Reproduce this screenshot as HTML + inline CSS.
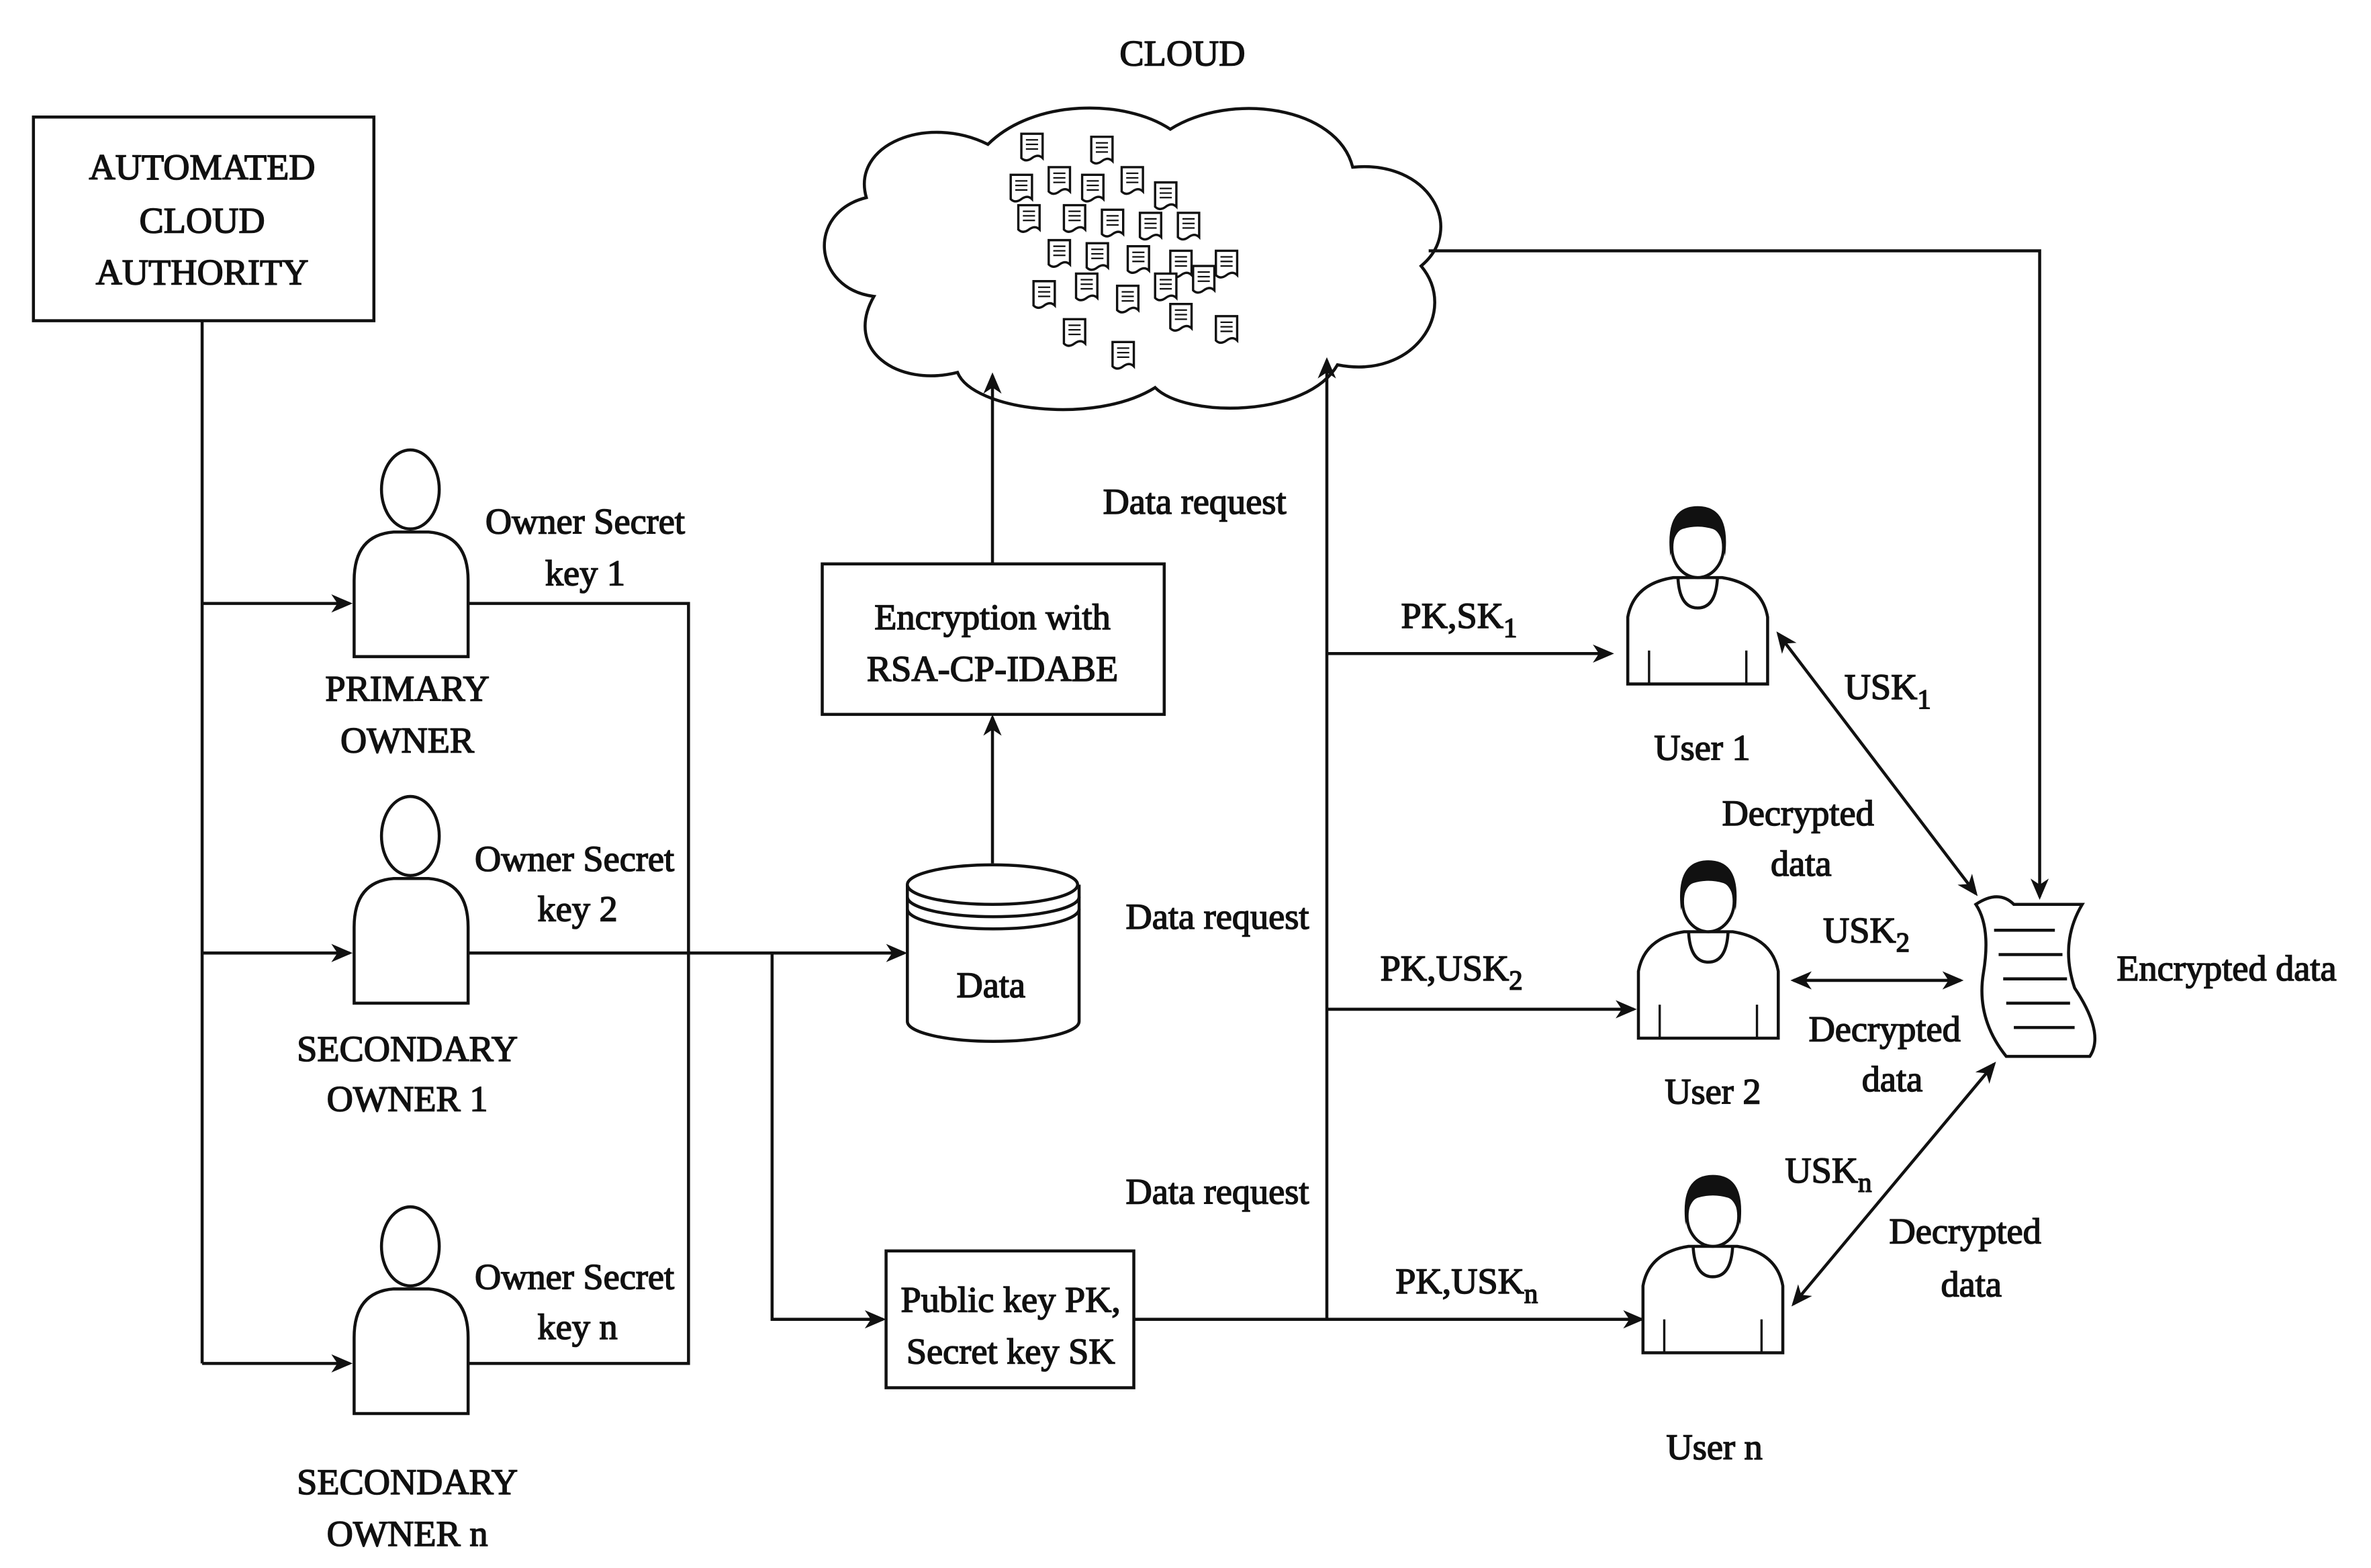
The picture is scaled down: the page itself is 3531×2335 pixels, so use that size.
<!DOCTYPE html>
<html><head><meta charset="utf-8"><style>
html,body{margin:0;padding:0;background:#fff;}
svg{display:block;}
text{font-family:"Liberation Serif",serif;font-size:24px;fill:#111;stroke:#111;stroke-width:0.7;text-anchor:middle;}
.l{stroke:#111;stroke-width:2;fill:none;}
</style></head><body>
<svg width="3531" height="2335" viewBox="0 0 1560 1031.6" preserveAspectRatio="none" xmlns="http://www.w3.org/2000/svg">
<defs>
<marker id="a" markerWidth="14" markerHeight="12" refX="12" refY="6" orient="auto" markerUnits="userSpaceOnUse"><path d="M0,0 L14,6 L0,12 L4,6 z" fill="#111"/></marker>
<marker id="s" markerWidth="14" markerHeight="12" refX="2" refY="6" orient="auto" markerUnits="userSpaceOnUse"><path d="M14,0 L0,6 L14,12 L10,6 z" fill="#111"/></marker>
<g id="doc"><path d="M0,0 h14 v16 q-3,-3 -7,0 q-4,3 -7,0 z" fill="#fff" stroke="#111" stroke-width="1.5"/><path d="M3,4h8M3,7h8M3,10h8" stroke="#111" stroke-width="1"/></g>
<g id="own" class="l"><path d="M0,84 V34 Q0,4 26,2 L49,2 Q75,4 75,34 V84 Z" fill="#fff"/><ellipse cx="37" cy="-26" rx="19" ry="26" fill="#fff"/></g>
<g id="usr"><path d="M0,72 V28 Q4,6 30,2 L62,2 Q88,6 92,28 V72 Z" fill="#fff" stroke="#111" stroke-width="2"/><path d="M33,2 Q34,22 46,22 Q58,22 59,2" fill="none" stroke="#111" stroke-width="2"/><path d="M14,50V72 M78,50V72" stroke="#111" stroke-width="1.5"/><ellipse cx="46" cy="-18" rx="17" ry="20" fill="#fff" stroke="#111" stroke-width="2"/><path d="M28,-12 Q24,-45 46,-45 Q68,-45 64,-12 Q62,-28 56,-30 Q46,-33 36,-30 Q30,-28 28,-12z" fill="#111"/></g>
</defs>
<rect width="1560" height="1031.6" fill="#fff"/>
<text x="778" y="43">CLOUD</text>
<path class="l" d="M575,195 C535,190 530,140 570,130 C560,95 610,75 650,95 C680,65 740,65 770,85 C810,60 880,70 890,110 C940,105 965,150 935,175 C960,205 930,250 880,240 C860,275 780,275 760,255 C720,280 640,270 630,245 C590,255 555,230 575,195 z"/>
<g>
<use href="#doc" x="672" y="88"/><use href="#doc" x="718" y="90"/><use href="#doc" x="665" y="115"/><use href="#doc" x="690" y="110"/><use href="#doc" x="712" y="115"/><use href="#doc" x="738" y="110"/><use href="#doc" x="760" y="120"/>
<use href="#doc" x="670" y="135"/><use href="#doc" x="700" y="135"/><use href="#doc" x="725" y="138"/><use href="#doc" x="750" y="140"/><use href="#doc" x="775" y="140"/>
<use href="#doc" x="690" y="158"/><use href="#doc" x="715" y="160"/><use href="#doc" x="742" y="162"/><use href="#doc" x="770" y="165"/><use href="#doc" x="800" y="165"/>
<use href="#doc" x="680" y="185"/><use href="#doc" x="708" y="180"/><use href="#doc" x="735" y="188"/><use href="#doc" x="760" y="180"/><use href="#doc" x="785" y="175"/>
<use href="#doc" x="700" y="210"/><use href="#doc" x="770" y="200"/><use href="#doc" x="800" y="208"/><use href="#doc" x="732" y="225"/>
</g>
<rect class="l" x="22" y="77" width="224" height="134"/>
<text x="133" y="118">AUTOMATED</text><text x="133" y="153">CLOUD</text><text x="133" y="187">AUTHORITY</text>
<path class="l" d="M133,211 V897"/>
<path class="l" d="M133,397 H230" marker-end="url(#a)"/>
<path class="l" d="M133,627 H230" marker-end="url(#a)"/>
<path class="l" d="M133,897 H230" marker-end="url(#a)"/>
<use href="#own" x="233" y="348"/>
<use href="#own" x="233" y="576"/>
<use href="#own" x="233" y="846"/>
<text x="385" y="351">Owner Secret</text><text x="385" y="385">key 1</text>
<text x="268" y="461">PRIMARY</text><text x="268" y="495">OWNER</text>
<text x="378" y="573">Owner Secret</text><text x="380" y="606">key 2</text>
<text x="268" y="698">SECONDARY</text><text x="268" y="731">OWNER 1</text>
<text x="378" y="848">Owner Secret</text><text x="380" y="881">key n</text>
<text x="268" y="983">SECONDARY</text><text x="268" y="1017">OWNER n</text>
<path class="l" d="M308,397 H453 V897 H308"/>
<path class="l" d="M308,627 H595" marker-end="url(#a)"/>
<path class="l" d="M508,627 V868 H581" marker-end="url(#a)"/>
<path class="l" d="M597,582 V672 A56,13 0 0 0 710,672 V582"/>
<ellipse class="l" cx="653" cy="582" rx="56" ry="13"/>
<path class="l" d="M597,590 A56,13 0 0 0 710,590 M597,598 A56,13 0 0 0 710,598"/>
<text x="652" y="656">Data</text>
<path class="l" d="M653,568 V472" marker-end="url(#a)"/>
<rect class="l" x="541" y="371" width="225" height="99"/>
<text x="653" y="414">Encryption with</text><text x="653" y="448">RSA-CP-IDABE</text>
<path class="l" d="M653,371 V247" marker-end="url(#a)"/>
<rect class="l" x="583" y="823" width="163" height="90"/>
<text x="665" y="863">Public key PK,</text><text x="665" y="897">Secret key SK</text>
<path class="l" d="M746,868 H1080" marker-end="url(#a)"/>
<path class="l" d="M873,868 V237" marker-end="url(#a)"/>
<path class="l" d="M873,430 H1060" marker-end="url(#a)"/>
<path class="l" d="M873,664 H1075" marker-end="url(#a)"/>
<text x="786" y="338">Data request</text><text x="801" y="611">Data request</text><text x="801" y="792">Data request</text>
<text x="960" y="413">PK,SK<tspan font-size="18" dy="6">1</tspan></text>
<text x="955" y="645">PK,USK<tspan font-size="18" dy="6">2</tspan></text>
<text x="965" y="851">PK,USK<tspan font-size="18" dy="6">n</tspan></text>
<path class="l" d="M940,165 H1342 V590" marker-end="url(#a)"/>
<use href="#usr" x="1071" y="378"/>
<use href="#usr" x="1078" y="611"/>
<use href="#usr" x="1081" y="818"/>
<text x="1120" y="500">User 1</text><text x="1127" y="726">User 2</text><text x="1128" y="960">User n</text>
<path class="l" d="M1300,595 Q1315,585 1325,595 H1370 Q1355,620 1365,650 Q1385,680 1375,695 H1320 Q1300,670 1305,640 Q1310,610 1300,595 z"/>
<path class="l" d="M1312,612h40M1315,628h42M1318,644h42M1320,660h42M1325,676h40"/>
<text x="1465" y="645">Encrypted data</text>
<path class="l" d="M1170,417 L1300,588" marker-start="url(#s)" marker-end="url(#a)"/>
<path class="l" d="M1180,645 H1290" marker-start="url(#s)" marker-end="url(#a)"/>
<path class="l" d="M1180,858 L1312,700" marker-start="url(#s)" marker-end="url(#a)"/>
<text x="1242" y="460">USK<tspan font-size="18" dy="6">1</tspan></text>
<text x="1183" y="543">Decrypted</text><text x="1185" y="576">data</text>
<text x="1228" y="620">USK<tspan font-size="18" dy="6">2</tspan></text>
<text x="1240" y="685">Decrypted</text><text x="1245" y="718">data</text>
<text x="1203" y="778">USK<tspan font-size="18" dy="6">n</tspan></text>
<text x="1293" y="818">Decrypted</text><text x="1297" y="853">data</text>
</svg>
</body></html>
